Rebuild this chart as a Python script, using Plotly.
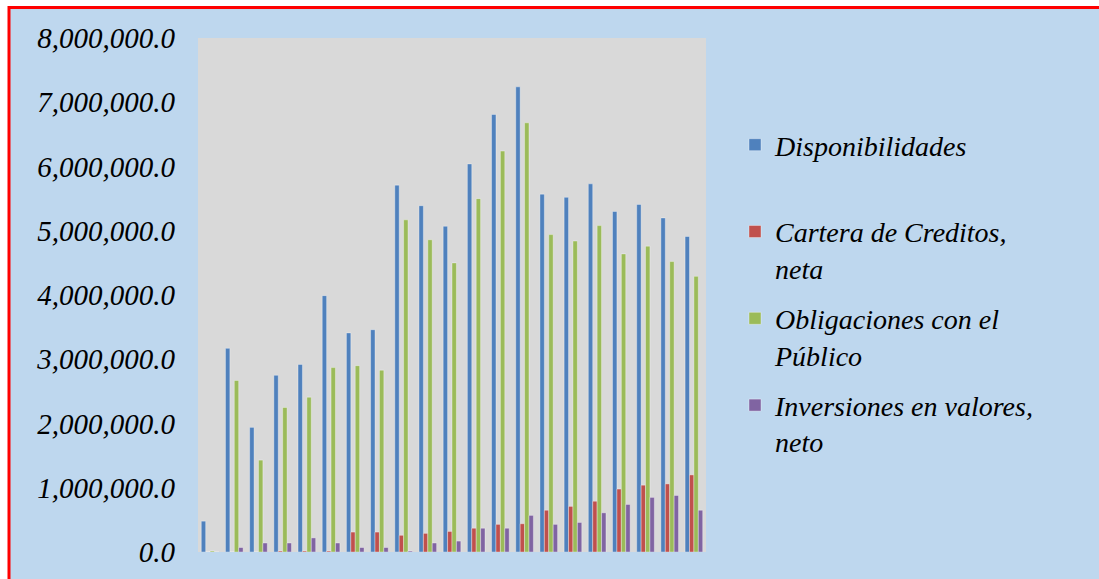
import plotly.graph_objects as go

# Periods (21 consecutive reporting dates; no axis labels are drawn)
periods = [str(i) for i in range(1, 22)]

disponibilidades = [480000, 3170000, 1940000, 2750000, 2920000, 3990000, 3410000,
                    3460000, 5710000, 5390000, 5070000, 6040000, 6810000, 7240000,
                    5570000, 5520000, 5730000, 5300000, 5410000, 5200000, 4910000]
cartera_creditos = [0, 0, 0, 15000, 15000, 15000, 310000,
                    310000, 260000, 290000, 320000, 370000, 430000, 440000,
                    650000, 710000, 790000, 980000, 1040000, 1060000, 1200000]
obligaciones_publico = [15000, 2670000, 1430000, 2250000, 2410000, 2870000, 2900000,
                        2830000, 5170000, 4860000, 4500000, 5500000, 6240000, 6680000,
                        4940000, 4840000, 5080000, 4640000, 4760000, 4520000, 4290000]
inversiones_valores = [0, 70000, 140000, 140000, 220000, 140000, 70000,
                       70000, 15000, 140000, 170000, 370000, 370000, 570000,
                       430000, 460000, 610000, 740000, 850000, 880000, 650000]

series = [
    ("Disponibilidades<br> ", disponibilidades, "#4F81BD"),
    ("Cartera de Creditos,<br>neta", cartera_creditos, "#C0504D"),
    ("Obligaciones con el<br>Público", obligaciones_publico, "#9BBB59"),
    ("Inversiones en valores,<br>neto", inversiones_valores, "#8064A2"),
]

W, H = 1099, 579
L, R, T, B = 198, 393, 38, 27
pw, ph = W - L - R, H - T - B


def px_x(p):
    return (p - L) / pw


def px_y(p):
    return (H - B - p) / ph


fig = go.Figure()
for i, (name, vals, color) in enumerate(series):
    fig.add_trace(go.Bar(
        x=periods, y=vals, name=name, legendgroup=f"g{i}",
        marker=dict(color=color, line=dict(color="rgba(255,255,255,0.35)", width=1)),
    ))

serif = "Liberation Serif, Times New Roman, serif"

fig.update_layout(
    width=W, height=H,
    margin=dict(l=L, r=R, t=T, b=B),
    paper_bgcolor="white",
    plot_bgcolor="#D9D9D9",
    barmode="group", bargap=0.27, bargroupgap=0,
    font=dict(family=serif, color="black", style="italic"),
    xaxis=dict(showticklabels=False, showgrid=False, zeroline=False, ticks="",
               range=[-0.5, 20.5], fixedrange=True),
    yaxis=dict(range=[0, 8000000], dtick=1000000, tickformat=",.1f",
               showgrid=False, zeroline=False, ticks="", ticklabelstandoff=22,
               tickfont=dict(family=serif, size=29, style="italic", color="black")),
    legend=dict(x=px_x(735), xanchor="left", y=px_y(120), yanchor="top",
                valign="top", tracegroupgap=11, bgcolor="rgba(0,0,0,0)",
                font=dict(family=serif, size=28, style="italic", color="black")),
    shapes=[
        # chart frame: light-blue fill with red border
        dict(type="rect", xref="paper", yref="paper", layer="below",
             x0=px_x(9), x1=px_x(1130), y0=px_y(610), y1=px_y(7.5),
             fillcolor="#BED7EE", line=dict(color="#FF0000", width=3)),
        # plot area
        dict(type="rect", xref="paper", yref="paper", layer="below",
             x0=0, x1=1, y0=0, y1=1, fillcolor="#D9D9D9", line=dict(width=0)),
    ],
)

fig.write_html("out.html")
